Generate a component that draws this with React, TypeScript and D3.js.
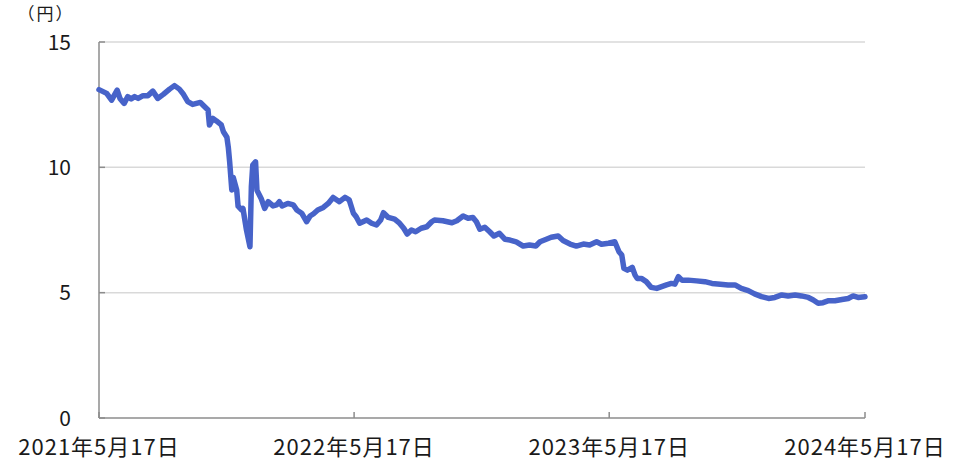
import React from 'react';
import * as d3 from 'd3';

const dates = [
  '2021-05-17', '2021-05-28', '2021-06-04', '2021-06-08', '2021-06-12', '2021-06-16', '2021-06-22', '2021-06-27',
  '2021-07-02', '2021-07-07', '2021-07-12', '2021-07-19', '2021-07-26', '2021-08-02', '2021-08-09', '2021-08-17',
  '2021-08-26', '2021-09-02', '2021-09-09', '2021-09-14', '2021-09-21', '2021-09-28', '2021-10-09', '2021-10-13',
  '2021-10-20', '2021-10-22', '2021-10-27', '2021-11-01', '2021-11-08', '2021-11-11', '2021-11-16', '2021-11-18',
  '2021-11-20', '2021-11-23', '2021-11-25', '2021-11-30', '2021-12-02', '2021-12-07', '2021-12-09', '2021-12-14',
  '2021-12-19', '2021-12-21', '2021-12-23', '2021-12-27', '2021-12-29', '2022-01-04', '2022-01-09', '2022-01-14',
  '2022-01-21', '2022-01-26', '2022-01-30', '2022-02-03', '2022-02-11', '2022-02-19', '2022-02-24', '2022-03-03',
  '2022-03-10', '2022-03-15', '2022-03-20', '2022-03-26', '2022-04-03', '2022-04-10', '2022-04-17', '2022-04-26',
  '2022-05-04', '2022-05-10', '2022-05-16', '2022-05-20', '2022-05-25', '2022-06-04', '2022-06-11', '2022-06-18',
  '2022-06-24', '2022-06-28', '2022-07-05', '2022-07-14', '2022-07-21', '2022-07-27', '2022-08-01', '2022-08-07',
  '2022-08-13', '2022-08-21', '2022-08-29', '2022-09-05', '2022-09-09', '2022-09-21', '2022-10-04', '2022-10-11',
  '2022-10-20', '2022-10-27', '2022-11-03', '2022-11-08', '2022-11-13', '2022-11-20', '2022-11-27', '2022-12-03',
  '2022-12-11', '2022-12-19', '2022-12-26', '2023-01-04', '2023-01-14', '2023-01-23', '2023-02-01', '2023-02-07',
  '2023-02-16', '2023-02-23', '2023-03-05', '2023-03-12', '2023-03-22', '2023-03-31', '2023-04-10', '2023-04-19',
  '2023-04-29', '2023-05-06', '2023-05-16', '2023-05-25', '2023-05-31', '2023-06-04', '2023-06-07', '2023-06-12',
  '2023-06-19', '2023-06-23', '2023-06-26', '2023-07-02', '2023-07-09', '2023-07-16', '2023-07-24', '2023-07-31',
  '2023-08-07', '2023-08-14', '2023-08-19', '2023-08-24', '2023-08-29', '2023-09-07', '2023-09-19', '2023-10-01',
  '2023-10-11', '2023-10-23', '2023-11-03', '2023-11-13', '2023-11-22', '2023-12-02', '2023-12-11', '2023-12-21',
  '2023-12-31', '2024-01-09', '2024-01-19', '2024-01-28', '2024-02-07', '2024-02-16', '2024-02-26', '2024-03-04',
  '2024-03-11', '2024-03-18', '2024-03-26', '2024-04-04', '2024-04-14', '2024-04-23', '2024-04-30', '2024-05-07',
  '2024-05-17',
];

const values = [
  13.10, 12.95, 12.68, 12.88, 13.08, 12.75, 12.55, 12.82,
  12.73, 12.82, 12.75, 12.86, 12.86, 13.04, 12.75, 12.91,
  13.12, 13.26, 13.12, 12.95, 12.62, 12.51, 12.59, 12.48,
  12.29, 11.69, 11.95, 11.85, 11.69, 11.42, 11.20, 10.80,
  10.20, 9.10, 9.60, 9.10, 8.45, 8.30, 8.36, 7.50,
  6.83, 9.23, 10.09, 10.22, 9.09, 8.76, 8.36, 8.63,
  8.46, 8.50, 8.63, 8.46, 8.56, 8.50, 8.30, 8.17,
  7.83, 8.06, 8.15, 8.30, 8.40, 8.56, 8.80, 8.63,
  8.80, 8.70, 8.17, 8.03, 7.77, 7.90, 7.77, 7.70,
  7.90, 8.19, 8.00, 7.93, 7.77, 7.57, 7.34, 7.50,
  7.43, 7.57, 7.63, 7.83, 7.90, 7.87, 7.79, 7.87,
  8.06, 7.97, 8.00, 7.83, 7.53, 7.61, 7.43, 7.26,
  7.37, 7.13, 7.10, 7.03, 6.86, 6.90, 6.86, 7.03,
  7.13, 7.21, 7.26, 7.08, 6.94, 6.86, 6.94, 6.90,
  7.03, 6.93, 6.97, 7.03, 6.63, 6.50, 5.97, 5.90,
  6.01, 5.70, 5.57, 5.57, 5.44, 5.21, 5.17, 5.24,
  5.31, 5.37, 5.34, 5.64, 5.50, 5.50, 5.47, 5.44,
  5.37, 5.34, 5.31, 5.31, 5.17, 5.08, 4.95, 4.84,
  4.77, 4.81, 4.91, 4.87, 4.91, 4.87, 4.81, 4.71,
  4.58, 4.60, 4.68, 4.68, 4.73, 4.77, 4.87, 4.81,
  4.84,
];

const yTicks = [0, 5, 10, 15];
const xTickDates = ['2021-05-17', '2022-05-17', '2023-05-17', '2024-05-17'];
const xTickLabels = ['2021年5月17日', '2022年5月17日', '2023年5月17日', '2024年5月17日'];
const unitLabel = '（円）';

const W = 966;
const H = 462;
const FONT = '"Noto Sans CJK JP", "Noto Sans", sans-serif';

export default function App() {
  const parse = d3.timeParse('%Y-%m-%d');
  const data = dates.map((d, i) => ({ date: parse(d) as Date, value: values[i] }));

  const x = d3
    .scaleTime()
    .domain([parse(xTickDates[0]) as Date, parse(xTickDates[3]) as Date])
    .range([99, 865]);
  const y = d3.scaleLinear().domain([0, 15]).range([418, 42]);

  const line = d3
    .line<{ date: Date; value: number }>()
    .x((d) => x(d.date))
    .y((d) => y(d.value))
    .curve(d3.curveLinear);

  return (
    <svg
      width={W}
      height={H}
      style={{ position: 'absolute', left: 0, top: 0, background: '#fff' }}
      fontFamily={FONT}
    >
      {/* gridlines */}
      {yTicks
        .filter((t) => t > 0)
        .map((t) => (
          <line key={'g' + t} x1={99} x2={865} y1={y(t)} y2={y(t)} stroke="#d9d9d9" strokeWidth={1.5} />
        ))}
      {/* y axis */}
      <line x1={99} x2={99} y1={y(15)} y2={y(0)} stroke="#8c8c8c" strokeWidth={1.5} />
      {yTicks.map((t) => (
        <g key={'y' + t}>
          <line x1={99} x2={105} y1={y(t)} y2={y(t)} stroke="#8c8c8c" strokeWidth={1.5} />
          <text x={71} y={y(t)} dy="0.36em" textAnchor="end" fontSize={21} fill="#1a1a1a">
            {t}
          </text>
        </g>
      ))}
      {/* x axis */}
      <line x1={99} x2={865} y1={y(0)} y2={y(0)} stroke="#8c8c8c" strokeWidth={1.5} />
      {xTickDates.map((d, i) => {
        const px = x(parse(d) as Date);
        return (
          <g key={'x' + d}>
            <line x1={px} x2={px} y1={y(0)} y2={y(0) - 6} stroke="#8c8c8c" strokeWidth={1.5} />
            <text x={px} y={455} textAnchor="middle" fontSize={22} letterSpacing={1} fill="#1a1a1a">
              {xTickLabels[i]}
            </text>
          </g>
        );
      })}
      <text x={46} y={20} textAnchor="middle" fontSize={17} letterSpacing={2} fill="#1a1a1a">
        {unitLabel}
      </text>
      <path
        d={line(data) ?? ''}
        fill="none"
        stroke="#4763c9"
        strokeWidth={5.5}
        strokeLinejoin="round"
        strokeLinecap="round"
      />
    </svg>
  );
}
